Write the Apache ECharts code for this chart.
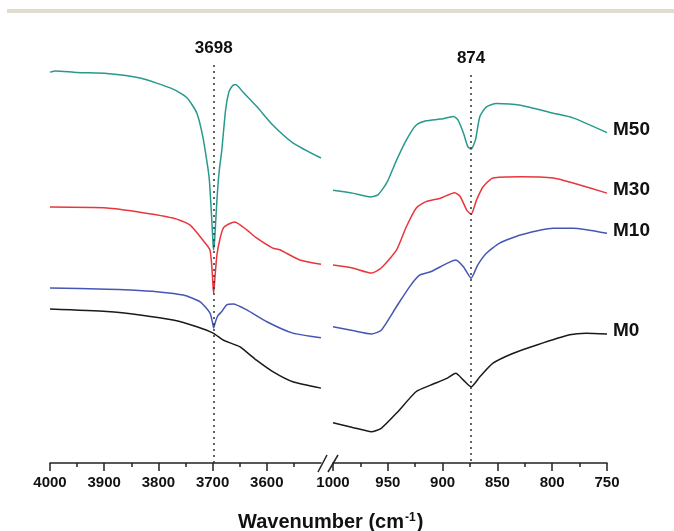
<!DOCTYPE html>
<html>
<head>
<meta charset="utf-8">
<script src="https://cdn.jsdelivr.net/npm/echarts@6/dist/echarts.min.js"></script>
<style>
  html, body { margin: 0; padding: 0; background: #fff; }
  #chart { width: 674px; height: 531px; }
</style>
</head>
<body>
<div id="chart"></div>
<script>
// wavenumber (cm-1) / transmittance (a.u., stacked offsets)
var m50Left = [[4000,92.4],[3990,92.7],[3950,92.3],[3895,92.1],[3834,91.0],[3773,88.4],[3747,86.3],[3729,82.7],[3718,77.1],[3709,70.0],[3706,66.9],[3702,58.6],[3699,51.5],[3698,50.4],[3696,53.2],[3692,62.2],[3688,68.8],[3683,74.0],[3676,83.5],[3670,87.7],[3665,88.9],[3660,89.4],[3657,89.4],[3644,87.7],[3618,84.2],[3589,79.9],[3552,75.7],[3500,72.1]];
var m30Left = [[4000,60.5],[3895,60.3],[3834,59.3],[3773,57.9],[3742,56.3],[3718,52.7],[3705,50.4],[3701,45.6],[3699,41.4],[3698,40.2],[3696,43.3],[3692,49.2],[3686,53.2],[3680,55.6],[3670,56.5],[3659,57.0],[3637,55.1],[3619,53.2],[3589,50.8],[3576,50.4],[3539,48.0],[3500,47.0]];
var m10Left = [[4000,41.4],[3895,41.1],[3852,40.9],[3803,40.5],[3754,39.7],[3723,38.1],[3705,35.5],[3700,33.1],[3698,31.9],[3695,33.3],[3690,34.9],[3683,35.8],[3674,37.4],[3662,37.6],[3637,36.2],[3600,33.4],[3552,30.7],[3500,29.6]];
var m0Left = [[4000,36.4],[3895,35.8],[3834,35.0],[3773,33.8],[3729,32.2],[3699,30.7],[3681,29.1],[3668,28.4],[3650,27.5],[3619,24.3],[3589,21.6],[3552,19.2],[3500,17.7]];

var m50Right = [[1000,64.5],[982,63.8],[966,62.9],[959,63.4],[951,66.2],[942,71.6],[933,76.4],[924,79.9],[915,80.9],[902,81.3],[890,81.9],[886,81.1],[881,78.0],[877,74.8],[874,74.2],[870,76.4],[866,81.9],[860,84.2],[851,85.0],[829,84.6],[799,82.7],[781,81.6],[750,78.1]];
var m30Right = [[1000,46.8],[982,46.1],[965,44.9],[956,46.1],[942,50.4],[933,55.9],[924,60.3],[915,61.8],[902,62.6],[889,63.9],[884,63.0],[878,59.8],[874,58.8],[869,62.2],[863,65.3],[854,67.4],[829,67.7],[799,67.4],[781,66.2],[750,63.8]];
var m10Right = [[1000,32.2],[982,31.3],[965,30.5],[956,31.4],[942,37.0],[930,41.7],[921,44.4],[911,45.2],[896,47.2],[888,48.0],[881,46.4],[874,43.7],[868,46.8],[860,49.6],[848,52.0],[829,53.9],[799,55.5],[781,55.5],[750,54.3]];
var m0Right = [[1000,9.5],[982,8.4],[965,7.4],[956,8.2],[942,11.8],[924,16.9],[911,18.4],[896,20.0],[888,21.2],[881,19.6],[874,18.0],[866,20.4],[854,23.6],[836,25.9],[814,27.9],[784,30.3],[769,30.7],[750,30.5]];

var sampleNames = ["M50", "M30", "M10", "M0"];
var sampleColors = ["#28998d", "#e8363c", "#4656b4", "#1a1a1a"];
var leftTicks = [4000, 3900, 3800, 3700, 3600];
var peakLeft = [3698, 94.1];
var peakRight = [874, 91.7];

var font = "Liberation Sans";
var leftData = [m50Left, m30Left, m10Left, m0Left];
var rightData = [m50Right, m30Right, m10Right, m0Right];

var axisCommon = {
    type: "value",
    inverse: true,
    axisLine: { lineStyle: { color: "#222", width: 1.5 } },
    axisTick: { inside: false, length: 8, lineStyle: { color: "#222", width: 1.5 } },
    minorTick: { show: true, splitNumber: 2, length: 4, lineStyle: { color: "#222", width: 1.5 } },
    splitLine: { show: false },
    axisLabel: {
        color: "#111", fontFamily: font, fontWeight: "bold", fontSize: 15, margin: 12,
        formatter: function (v) { return String(v); }
    }
};

var series = [];
for (var i = 0; i < 4; i++) {
    var last = rightData[i][rightData[i].length - 1];
    series.push({
        name: sampleNames[i], type: "line", xAxisIndex: 0, yAxisIndex: 0,
        data: leftData[i], smooth: 0.2, showSymbol: false,
        lineStyle: { color: sampleColors[i], width: 1.5 }
    });
    series.push({
        name: sampleNames[i], type: "line", xAxisIndex: 1, yAxisIndex: 1,
        data: rightData[i], smooth: 0.2, showSymbol: false,
        lineStyle: { color: sampleColors[i], width: 1.5 },
        markPoint: {
            silent: true, symbol: "circle", symbolSize: 0,
            label: {
                show: true, position: "right", distance: 6, offset: [0, -3],
                formatter: sampleNames[i],
                color: "#111", fontFamily: font, fontWeight: "bold", fontSize: 19
            },
            data: [{ coord: last }]
        }
    });
}

var dotted = { color: "#333", type: [2, 4], width: 1.5 };
var peakLabel = { show: true, position: "start", distance: 8, color: "#111", fontFamily: font, fontWeight: "bold", fontSize: 17 };
series[6].markLine = {
    silent: true, symbol: ["none", "none"], lineStyle: dotted,
    label: Object.assign({ formatter: String(peakLeft[0]) }, peakLabel),
    data: [[{ coord: [peakLeft[0], peakLeft[1]] }, { coord: [peakLeft[0], 0] }]]
};
series[7].markLine = {
    silent: true, symbol: ["none", "none"], lineStyle: dotted,
    label: Object.assign({ formatter: String(peakRight[0]) }, peakLabel),
    data: [[{ coord: [peakRight[0], peakRight[1]] }, { coord: [peakRight[0], 0] }]]
};

var option = {
    animation: false,
    backgroundColor: "#fff",
    title: {
        text: "{a|Wavenumber (cm}{s|-1}{a|)}",
        left: 233, top: 507,
        textStyle: {
            rich: {
                a: { fontFamily: font, fontWeight: "bold", fontSize: 20, color: "#111" },
                s: { fontFamily: font, fontWeight: "bold", fontSize: 12, color: "#111", verticalAlign: "top", padding: [0, 1, 8, 1] }
            }
        }
    },
    grid: [
        { left: 50, width: 271, top: 40, bottom: 68 },
        { left: 333, right: 67, top: 40, bottom: 68 }
    ],
    xAxis: [
        Object.assign({}, axisCommon, {
            gridIndex: 0, min: 3500, max: 4000, interval: 100,
            axisTick: Object.assign({}, axisCommon.axisTick, { customValues: leftTicks }),
            axisLabel: Object.assign({}, axisCommon.axisLabel, { customValues: leftTicks })
        }),
        Object.assign({}, axisCommon, { gridIndex: 1, min: 750, max: 1000, interval: 50 })
    ],
    yAxis: [
        { type: "value", gridIndex: 0, min: 0, max: 100, show: false },
        { type: "value", gridIndex: 1, min: 0, max: 100, show: false }
    ],
    graphic: [
        { type: "rect", shape: { x: 7, y: 9, width: 667, height: 4 }, style: { fill: "#e1dccd" } },
        { type: "line", shape: { x1: 318, y1: 472, x2: 327, y2: 455 }, style: { stroke: "#222", lineWidth: 1.5 } },
        { type: "line", shape: { x1: 328, y1: 472, x2: 338, y2: 455 }, style: { stroke: "#222", lineWidth: 1.5 } }
    ],
    series: series
};

var myChart = echarts.init(document.getElementById("chart"));
myChart.setOption(option);
</script>
</body>
</html>
